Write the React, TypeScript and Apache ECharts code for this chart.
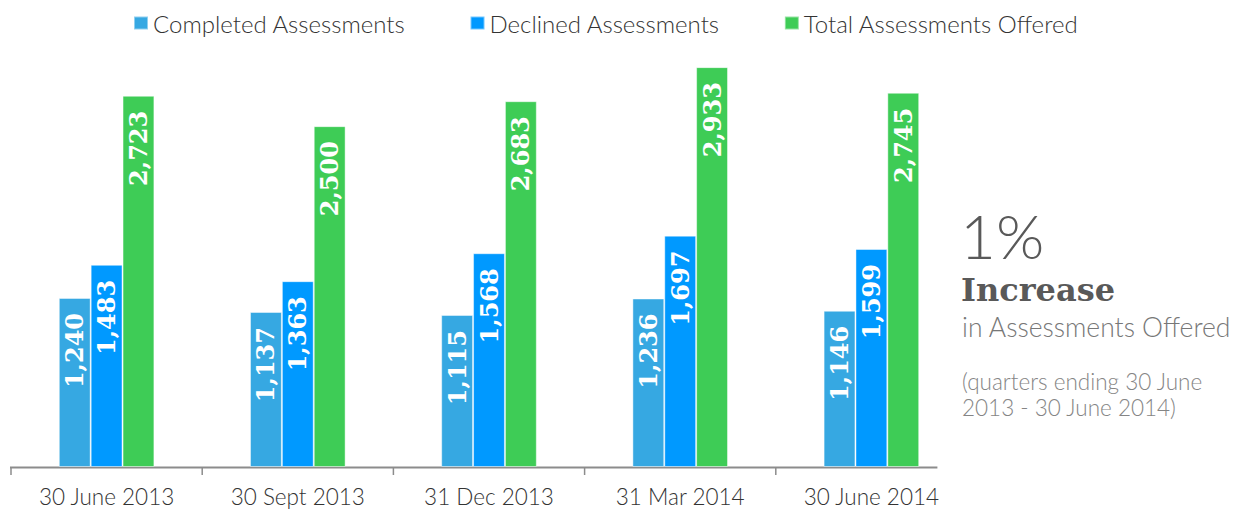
import React, { useEffect, useRef } from "react";
import * as echarts from "echarts";

const categories = ["30 June 2013", "30 Sept 2013", "31 Dec 2013", "31 Mar 2014", "30 June 2014"];
const completed = [1240, 1137, 1115, 1236, 1146];
const declined = [1483, 1363, 1568, 1697, 1599];
const totalOffered = [2723, 2500, 2683, 2933, 2745];
const seriesNames = ["Completed Assessments", "Declined Assessments", "Total Assessments Offered"];
const colors = ["#36A8E2", "#0099FF", "#3ECC56"];

const SANS = "Lato, 'Open Sans', sans-serif";
const SERIF = "'DejaVu Serif', 'Liberation Serif', serif";

export default function App() {
  const ref = useRef<HTMLDivElement>(null);

  useEffect(() => {
    if (!ref.current) return;
    const chart = echarts.init(ref.current, null, { renderer: "svg" });

    const label = {
      show: true,
      position: "insideTop",
      rotate: 90,
      align: "right",
      verticalAlign: "middle",
      distance: 15,
      color: "#ffffff",
      fontFamily: SERIF,
      fontWeight: "bold",
      fontSize: 24,
      formatter: (p: any) => Number(p.value).toLocaleString("en-US"),
    };

    const mk = (name: string, data: number[], color: string) => ({
      name,
      type: "bar",
      data,
      barGap: "0%",
      barCategoryGap: "50%",
      itemStyle: { color, borderColor: "rgba(255,255,255,0.45)", borderWidth: 1 },
      label,
    });

    chart.setOption({
      animation: false,
      legend: {
        top: 11,
        left: 133,
        padding: 0,
        itemWidth: 14,
        itemHeight: 13,
        itemGap: 64,
        icon: "rect",
        textStyle: { color: "#333333", fontFamily: SANS, fontWeight: 300, fontSize: 24 },
        data: seriesNames,
      },
      grid: { left: 11, right: 269, top: 58, bottom: 43, containLabel: false },
      xAxis: {
        type: "category",
        data: categories,
        axisLine: { show: false },
        axisTick: { show: false },
        axisLabel: { color: "#333333", fontFamily: SANS, fontWeight: 300, fontSize: 22.5, margin: 18 },
      },
      yAxis: { type: "value", min: 0, max: 3000, show: false, splitLine: { show: false } },
      series: [
        mk(seriesNames[0], completed, colors[0]),
        mk(seriesNames[1], declined, colors[1]),
        mk(seriesNames[2], totalOffered, colors[2]),
      ],
    });

    // axis line and boundary ticks, derived from the category scale
    const c0 = chart.convertToPixel({ xAxisIndex: 0 }, 0) as number;
    const c1 = chart.convertToPixel({ xAxisIndex: 0 }, 1) as number;
    const band = c1 - c0;
    const y0 = chart.convertToPixel({ yAxisIndex: 0 }, 0) as number;
    const left = c0 - band / 2;
    const axisColor = "#8c8c8c";
    const ticks = categories.map((_, i) => ({
      type: "line",
      shape: { x1: left + i * band, y1: y0, x2: left + i * band, y2: y0 + 8 },
      style: { stroke: axisColor, lineWidth: 1.5 },
      silent: true,
    }));
    const lastCenter = c0 + (categories.length - 1) * band;

    chart.setOption({
      graphic: [
        {
          type: "line",
          shape: { x1: left - 1, y1: y0 + 0.5, x2: lastCenter + 66, y2: y0 + 0.5 },
          style: { stroke: axisColor, lineWidth: 2 },
          silent: true,
        },
        ...ticks,
        {
          type: "text",
          x: 960,
          y: 235,
          style: { text: "1%", font: `300 62px ${SANS}`, fill: "#595959", verticalAlign: "middle" },
        },
        {
          type: "text",
          x: 961,
          y: 290,
          style: { text: "Increase", font: `bold 32px ${SERIF}`, fill: "#595959", verticalAlign: "middle" },
        },
        {
          type: "text",
          x: 962,
          y: 327,
          style: { text: "in Assessments Offered", font: `300 26.5px ${SANS}`, fill: "#777777", verticalAlign: "middle" },
        },
        {
          type: "text",
          x: 962,
          y: 381,
          style: { text: "(quarters ending 30 June", font: `300 22.5px ${SANS}`, fill: "#858585", verticalAlign: "middle" },
        },
        {
          type: "text",
          x: 962,
          y: 407,
          style: { text: "2013 - 30 June 2014)", font: `300 22.5px ${SANS}`, fill: "#858585", verticalAlign: "middle" },
        },
      ],
    });

    return () => chart.dispose();
  }, []);

  return (
    <div
      ref={ref}
      style={{ position: "fixed", left: 0, top: 0, width: 1236, height: 510, background: "#ffffff" }}
    />
  );
}
